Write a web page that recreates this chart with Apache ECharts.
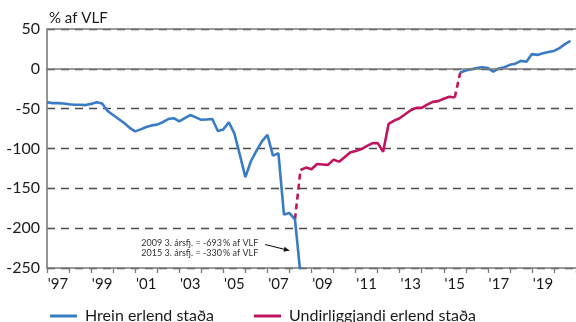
<!DOCTYPE html>
<html>
<head>
<meta charset="utf-8">
<script src="https://cdn.jsdelivr.net/npm/echarts@6/dist/echarts.min.js"></script>
<style>
  html, body { margin: 0; padding: 0; background: #fff; }
  #chart { width: 576px; height: 322px; }
</style>
</head>
<body>
<div id="chart"></div>
<script>
// Quarterly series, % of GDP (af VLF). Quarter index 0 = 1997 Q1.
const FIRST_YEAR = 1997;

// Year labels under the x axis (every other one is drawn)
const yearLabels = ["'97", "'98", "'99", "'00", "'01", "'02", "'03", "'04", "'05", "'06", "'07", "'08",
                    "'09", "'10", "'11", "'12", "'13", "'14", "'15", "'16", "'17", "'18", "'19", "'20"];

// Hrein erlend staða, 1997 Q1 – 2008 Q3
const netPositionEarly = [
  -42, -43, -43, -43.5, -44.5, -45, -45, -45.5, -44, -42, -43.5, -53,
  -58, -63, -68, -74, -78.5, -76, -73, -71, -70, -67, -63, -62,
  -66, -62, -58, -61, -64, -63.5, -63, -78, -76, -67, -81, -108,
  -136, -116, -103, -91, -83, -109, -106, -183, -181, -189, -258
];

// Values below the plotted range, as given in the note: [year, quarter, value]
const offScaleQuarters = [[2009, 3, -693], [2015, 3, -330]];

// Undirliggjandi erlend staða, 2008 Q3 – 2015 Q3
const underlyingPosition = [
  -127, -124, -126, -119.5, -120, -120.5, -114, -116.5, -111, -105, -103, -101,
  -97, -93.5, -93, -104, -69, -65, -62, -57, -52, -49, -49, -45,
  -41.5, -40.5, -37.5, -35, -36
];

// Hrein erlend staða, 2015 Q4 – 2020 Q4
const netPositionLate = [
  -4.5, -2, -0.5, 1, 2, 1, -3.5, 0.5, 2, 5, 6.5, 10,
  9, 18.5, 17.5, 19.5, 21, 22.5, 26, 31, 35
];

const BLUE = '#3a7bc6';
const MAGENTA = '#c0155e';
const NAME_NET = 'Hrein erlend staða';
const NAME_UNDER = 'Undirliggjandi erlend staða';
const FONT = 'Lato';

const qTime = (startIndex) => (v, k) => [FIRST_YEAR + (startIndex + k) / 4, v];

const earlyStart = 0;
const underStart = netPositionEarly.length - 1;              // 2008 Q3
const lateStart = underStart + underlyingPosition.length;     // 2015 Q4

const earlyData = netPositionEarly.map(qTime(earlyStart))
  .concat(offScaleQuarters.map(([y, q, v]) => [y + (q - 1) / 4, v]));
const underData = underlyingPosition.map(qTime(underStart));
const lateData = netPositionLate.map(qTime(lateStart));

// Dashed links between the two measures
const linkA = [earlyData[underStart - 1], underData[0]];
const linkB = [underData[underData.length - 1], lateData[0]];

const chart = echarts.init(document.getElementById('chart'), null, { renderer: 'canvas' });

const option = {
  animation: false,
  backgroundColor: '#fff',
  textStyle: { fontFamily: FONT },
  title: {
    text: '% af VLF',
    left: 44, top: 6,
    textStyle: { fontFamily: FONT, fontSize: 15, fontWeight: 'normal', color: '#1a1a1a' }
  },
  grid: { left: 47, top: 29, width: 529, height: 239 },
  legend: {
    data: [NAME_NET, NAME_UNDER],
    left: 45, top: 303,
    icon: 'rect', itemWidth: 27, itemHeight: 3, itemGap: 40,
    textStyle: { fontFamily: FONT, fontSize: 16, color: '#1a1a1a', padding: [0, 0, 0, 3] }
  },
  xAxis: [
    {
      type: 'value', min: FIRST_YEAR, max: FIRST_YEAR + yearLabels.length, interval: 1,
      position: 'bottom',
      axisLine: { show: true, onZero: false, lineStyle: { color: '#7a7a7a', width: 1.6 } },
      axisTick: { show: true, length: 5, lineStyle: { color: '#7a7a7a', width: 1.3 } },
      axisLabel: { show: false },
      splitLine: { show: false }
    },
    {
      type: 'category', data: yearLabels, boundaryGap: true,
      position: 'bottom', gridIndex: 0,
      axisLine: { show: false }, axisTick: { show: false },
      splitLine: { show: false },
      axisLabel: { interval: 1, margin: 9, fontFamily: FONT, fontSize: 15, color: '#1a1a1a' }
    }
  ],
  yAxis: {
    type: 'value', min: -250, max: 50, interval: 50,
    axisLine: { show: true, lineStyle: { color: '#7a7a7a', width: 1.6 } },
    axisTick: { show: false },
    axisLabel: { margin: 7, fontFamily: FONT, fontSize: 16, color: '#1a1a1a',
                 showMinLabel: true, showMaxLabel: true },
    splitLine: { show: true, lineStyle: { type: [8, 6], color: '#4a4a4a', width: 1.3 } }
  },
  series: [
    {
      // solid reference lines at 0 and at the top of the scale
      type: 'line', data: [], z: 1, silent: true,
      markLine: {
        silent: true, symbol: 'none', label: { show: false },
        lineStyle: { type: 'solid', color: '#7a7a7a', width: 1.6 },
        data: [{ yAxis: 0 }, { yAxis: 50 }]
      }
    },
    {
      name: NAME_NET, type: 'line', data: earlyData, z: 3,
      showSymbol: false, clip: true,
      lineStyle: { color: BLUE, width: 2.6 }, itemStyle: { color: BLUE }
    },
    {
      name: NAME_NET, type: 'line', data: lateData, z: 3,
      showSymbol: false, clip: true,
      lineStyle: { color: BLUE, width: 2.6 }, itemStyle: { color: BLUE }
    },
    {
      name: NAME_UNDER, type: 'line', data: underData, z: 3,
      showSymbol: false, clip: true,
      lineStyle: { color: MAGENTA, width: 2.6 }, itemStyle: { color: MAGENTA }
    },
    {
      name: 'link-a', type: 'line', data: linkA, z: 2, showSymbol: false, clip: true,
      lineStyle: { color: MAGENTA, width: 2.6, type: [6, 4] }
    },
    {
      name: 'link-b', type: 'line', data: linkB, z: 2, showSymbol: false, clip: true,
      lineStyle: { color: MAGENTA, width: 2.6, type: [6, 4] }
    }
  ]
};

chart.setOption(option);

// Note on the off-scale values, with an arrow pointing at the falling line
const fmtQuarter = ([y, q, v]) => `${y} ${q}. ársfj. = ${v}\u2009% af VLF`;
const tip = chart.convertToPixel({ xAxisIndex: 0, yAxisIndex: 0 }, [2007.99, -228]);
const tail = [tip[0] - 24, tip[1] - 6];
const ang = Math.atan2(tip[1] - tail[1], tip[0] - tail[0]);
const head = 6;
const wing = (s) => [tip[0] - head * Math.cos(ang + s), tip[1] - head * Math.sin(ang + s)];

chart.setOption({
  graphic: [
    {
      type: 'text', x: tail[0] - 7, y: tip[1] - 13,
      style: {
        text: offScaleQuarters.map(fmtQuarter).join('\n'),
        font: `9px ${FONT}`, fill: '#333', lineHeight: 10.5,
        align: 'right', verticalAlign: 'top'
      }
    },
    {
      type: 'line', shape: { x1: tail[0], y1: tail[1], x2: tip[0], y2: tip[1] },
      style: { stroke: '#111', lineWidth: 1.1 }
    },
    {
      type: 'polygon', shape: { points: [tip, wing(0.45), wing(-0.45)] },
      style: { fill: '#111' }
    }
  ]
});
</script>
</body>
</html>
